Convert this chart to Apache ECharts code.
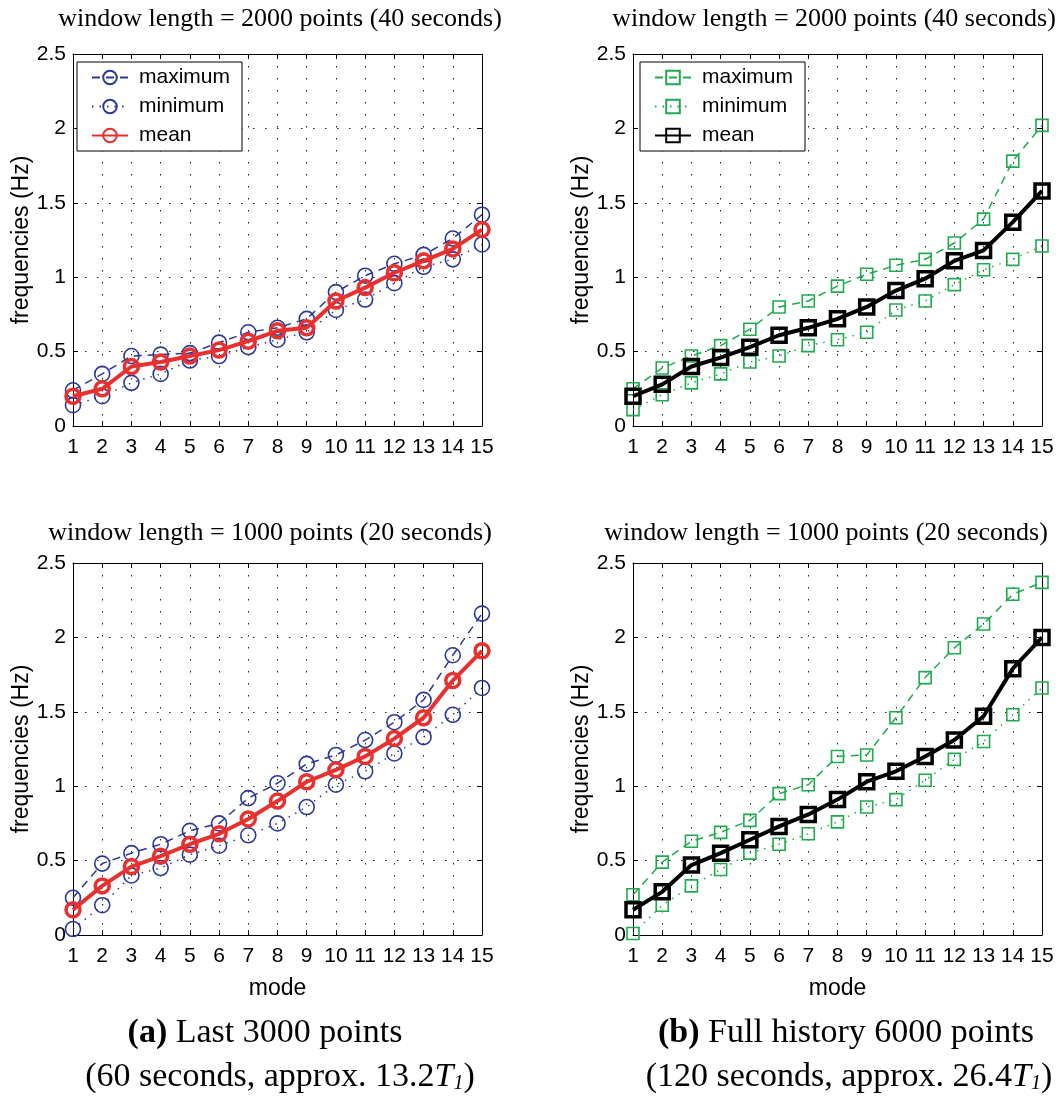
<!DOCTYPE html>
<html>
<head>
<meta charset="utf-8">
<script src="https://cdn.jsdelivr.net/npm/echarts@6/dist/echarts.min.js"></script>
<style>html,body{margin:0;padding:0;background:#fff}#c{width:1059px;height:1109px}</style>
</head>
<body>
<div id="c"></div>
<script>
// ---------------- DATA ----------------
const modes = [1, 2, 3, 4, 5, 6, 7, 8, 9, 10, 11, 12, 13, 14, 15];
const seriesNames = ['maximum', 'minimum', 'mean'];
const panelTitles = [
  'window length = 2000 points (40 seconds)',
  'window length = 2000 points (40 seconds)',
  'window length = 1000 points (20 seconds)',
  'window length = 1000 points (20 seconds)'
];
const yAxisName = 'frequencies (Hz)';
const xAxisName = 'mode';

// (a) last 3000 points, window 2000
const aMax2000  = [0.24, 0.35, 0.47, 0.48, 0.49, 0.56, 0.63, 0.66, 0.72, 0.90, 1.01, 1.09, 1.15, 1.26, 1.42];
const aMin2000  = [0.14, 0.20, 0.29, 0.35, 0.44, 0.47, 0.53, 0.58, 0.63, 0.78, 0.85, 0.96, 1.07, 1.12, 1.22];
const aMean2000 = [0.20, 0.25, 0.40, 0.43, 0.47, 0.51, 0.57, 0.64, 0.66, 0.84, 0.93, 1.03, 1.11, 1.19, 1.32];
// (b) full history, window 2000
const bMax2000  = [0.25, 0.39, 0.47, 0.54, 0.65, 0.80, 0.84, 0.94, 1.02, 1.08, 1.12, 1.23, 1.39, 1.78, 2.02];
const bMin2000  = [0.11, 0.21, 0.29, 0.35, 0.43, 0.47, 0.54, 0.58, 0.63, 0.78, 0.84, 0.95, 1.05, 1.12, 1.21];
const bMean2000 = [0.20, 0.28, 0.40, 0.46, 0.53, 0.61, 0.66, 0.72, 0.80, 0.91, 0.99, 1.11, 1.18, 1.37, 1.58];
// (a) last 3000 points, window 1000
const aMax1000  = [0.25, 0.48, 0.55, 0.61, 0.70, 0.75, 0.92, 1.02, 1.15, 1.21, 1.31, 1.43, 1.58, 1.88, 2.16];
const aMin1000  = [0.04, 0.20, 0.40, 0.45, 0.54, 0.60, 0.67, 0.75, 0.86, 1.01, 1.10, 1.22, 1.33, 1.48, 1.66];
const aMean1000 = [0.17, 0.33, 0.46, 0.53, 0.61, 0.68, 0.78, 0.90, 1.03, 1.11, 1.20, 1.32, 1.46, 1.71, 1.91];
// (b) full history, window 1000
const bMax1000  = [0.27, 0.49, 0.63, 0.69, 0.77, 0.95, 1.01, 1.20, 1.21, 1.46, 1.73, 1.93, 2.09, 2.29, 2.37];
const bMin1000  = [0.01, 0.20, 0.33, 0.44, 0.55, 0.61, 0.68, 0.76, 0.86, 0.91, 1.04, 1.18, 1.30, 1.48, 1.66];
const bMean1000 = [0.17, 0.29, 0.47, 0.55, 0.64, 0.73, 0.81, 0.91, 1.03, 1.10, 1.20, 1.31, 1.47, 1.79, 2.00];

// ---------------- STYLE / LAYOUT ----------------
const SANS = '"Liberation Sans", Arial, Helvetica, sans-serif';
const SERIF = '"Liberation Serif", "Times New Roman", serif';
const BLUE = '#2b3896';
const RED = '#e8302e';
const GREEN = '#1faa4e';
const BLACK = '#000000';

const gridBoxes = [
  { left: 73, top: 54 },
  { left: 633, top: 54 },
  { left: 73, top: 563 },
  { left: 633, top: 563 }
];
const GW = 409, GH = 372;

const panels = [
  { data: [aMax2000, aMin2000, aMean2000], kind: 'a', legend: true, xName: false },
  { data: [bMax2000, bMin2000, bMean2000], kind: 'b', legend: true, xName: false },
  { data: [aMax1000, aMin1000, aMean1000], kind: 'a', legend: false, xName: true },
  { data: [bMax1000, bMin1000, bMean1000], kind: 'b', legend: false, xName: true }
];

const grid = [], xAxis = [], yAxis = [], series = [], legend = [];

panels.forEach((p, i) => {
  grid.push({ left: gridBoxes[i].left, top: gridBoxes[i].top, width: GW, height: GH, containLabel: false });
  const axisLine = { show: true, onZero: false, lineStyle: { color: '#000', width: 1 } };
  const tick = { show: true, inside: true, length: 5, lineStyle: { color: '#000', width: 1 } };
  const split = { show: true, lineStyle: { color: '#222', width: 1, type: [1.5, 10.5] } };
  xAxis.push({
    gridIndex: i, type: 'value', position: 'bottom', min: 1, max: 15, interval: 1,
    axisLine, axisTick: tick, splitLine: split,
    axisLabel: { color: '#000', fontSize: 21, fontFamily: SANS, margin: 11 },
    name: p.xName ? xAxisName : '', nameLocation: 'middle', nameGap: 42,
    nameTextStyle: { color: '#000', fontSize: 23, fontFamily: SANS }
  });
  xAxis.push({
    gridIndex: i, type: 'value', position: 'top', min: 1, max: 15, interval: 1,
    axisLine, axisTick: tick, splitLine: { show: false }, axisLabel: { show: false }
  });
  yAxis.push({
    gridIndex: i, type: 'value', position: 'left', min: 0, max: 2.5, interval: 0.5,
    axisLine, axisTick: tick, splitLine: split,
    axisLabel: { color: '#000', fontSize: 21, fontFamily: SANS, margin: 7 },
    name: yAxisName, nameLocation: 'middle', nameGap: 39,
    nameTextStyle: { color: '#000', fontSize: 23, fontFamily: SANS }
  });
  yAxis.push({
    gridIndex: i, type: 'value', position: 'right', min: 0, max: 2.5, interval: 0.5,
    axisLine, axisTick: tick, splitLine: { show: false }, axisLabel: { show: false }
  });

  const suffix = p.kind === 'a' ? '' : ' ';
  const thin = p.kind === 'a' ? BLUE : GREEN;
  const thick = p.kind === 'a' ? RED : BLACK;
  const sym = p.kind === 'a' ? 'circle' : 'rect';
  const thinSize = p.kind === 'a' ? 15 : 12;
  const thickSize = 14;
  const defs = [
    { color: thin, type: [8, 6], width: 1.5, size: thinSize, bw: 1.6 },
    { color: thin, type: [1.5, 6], width: 1.5, size: thinSize, bw: 1.6 },
    { color: thick, type: 'solid', width: 4, size: thickSize, bw: 3.5 }
  ];
  defs.forEach((d, k) => {
    series.push({
      type: 'line',
      name: seriesNames[k] + suffix,
      xAxisIndex: i * 2, yAxisIndex: i * 2,
      data: modes.map((m, j) => [m, p.data[k][j]]),
      symbol: sym, symbolSize: d.size, showSymbol: true, clip: false,
      lineStyle: { color: d.color, width: d.width, type: d.type },
      itemStyle: { color: 'rgba(0,0,0,0)', borderColor: d.color, borderWidth: d.bw },
      emphasis: { disabled: true },
      z: 2 + k
    });
  });
  if (p.legend) {
    legend.push({
      data: seriesNames.map(n => n + suffix),
      formatter: n => n.trim(),
      orient: 'vertical',
      left: gridBoxes[i].left + (i === 0 ? 4 : 7),
      top: 62,
      itemWidth: 36, itemHeight: 17, itemGap: 8,
      padding: [5, 12, 5, 14],
      backgroundColor: '#fff', borderColor: '#000', borderWidth: 1, borderRadius: 0,
      textStyle: { color: '#000', fontSize: 21, fontFamily: SANS, padding: [0, 0, 0, 6] },
      selectedMode: false
    });
  }
});

const graphic = [];
const titlePos = [[280, 19], [834, 19], [270, 533], [826, 533]];
panelTitles.forEach((t, i) => {
  graphic.push({
    type: 'text', x: titlePos[i][0], y: titlePos[i][1], silent: true,
    style: { text: t, fontSize: 26, fontFamily: SERIF, fill: '#000', align: 'center', verticalAlign: 'middle' }
  });
});
const captionRich = {
  b: { fontWeight: 'bold', fontSize: 34, fontFamily: SERIF },
  i: { fontStyle: 'italic', fontSize: 34, fontFamily: SERIF },
  s: { fontStyle: 'italic', fontSize: 20, fontFamily: SERIF, verticalAlign: 'bottom' }
};
const captions = [
  { x: 265, y: 1033, text: '{b|(a)} Last 3000 points' },
  { x: 280, y: 1077, text: '(60 seconds, approx. 13.2{i|T}{s|1})' },
  { x: 846, y: 1033, text: '{b|(b)} Full history 6000 points' },
  { x: 849, y: 1077, text: '(120 seconds, approx. 26.4{i|T}{s|1})' }
];
captions.forEach(c => {
  graphic.push({
    type: 'text', x: c.x, y: c.y, silent: true,
    style: { text: c.text, rich: captionRich, fontSize: 34, fontFamily: SERIF, fill: '#000', align: 'center', verticalAlign: 'middle' }
  });
});

const chart = echarts.init(document.getElementById('c'), null, { renderer: 'canvas' });
chart.setOption({
  animation: false,
  backgroundColor: '#fff',
  grid, xAxis, yAxis, series, legend, graphic
});
</script>
</body>
</html>
